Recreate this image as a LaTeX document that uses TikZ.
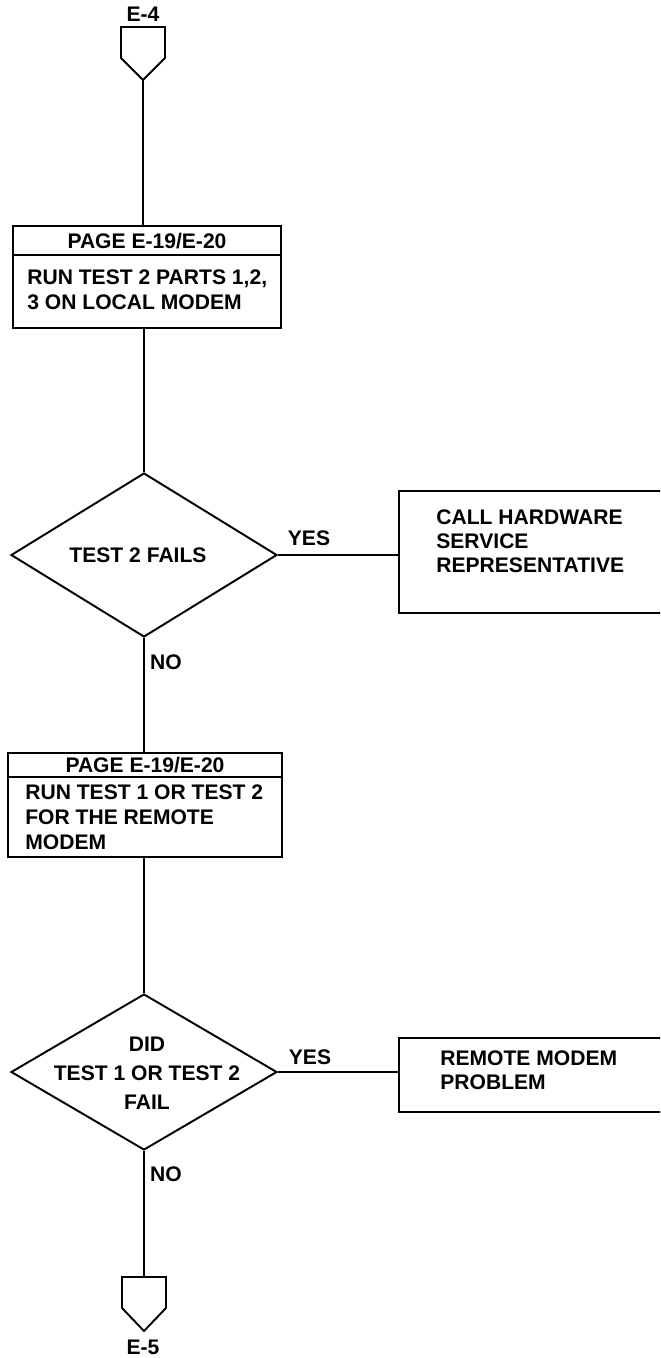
\documentclass[tikz,border=0pt]{standalone}
\usepackage{fontspec}
\setmainfont{Liberation Sans}
\usetikzlibrary{shapes.geometric}
\begin{document}
\begin{tikzpicture}[x=0.02cm,y=-0.02cm,
  every node/.style={font=\bfseries\fontsize{12}{14}\selectfont},
  ln/.style={line width=1.1pt},
  boxshape/.style={draw,line width=1.1pt,rectangle,inner sep=0pt},
  dia/.style={draw,line width=1.1pt,diamond,inner sep=0pt},
  txt/.style={inner sep=0pt,align=left},
  lbl/.style={inner sep=0pt}]
\useasboundingbox (0,0) rectangle (660,1358);
\clip (0,0) rectangle (660,1358);
% top off-page connector
\node[lbl] (e4) at (143,14) {E-4};
\draw[ln,line join=miter] (121,27) -- (165,27) -- (165,58) -- (143,80) -- (121,58) -- cycle;
\coordinate (c4) at (143,80);
% box 1
\node[boxshape,minimum width=268*0.02cm,minimum height=29*0.02cm] (h1) at (147,240.5) {};
\node[lbl] (h1t) at (147,241) {PAGE E-19/E-20};
\node[boxshape,minimum width=268*0.02cm,minimum height=73*0.02cm] (b1) at (147,291.5) {};
\node[txt,anchor=west,font=\bfseries\fontsize{12}{14.2}\selectfont] (t1) at (27,289.5) {RUN TEST 2 PARTS 1,2,\\3 ON LOCAL MODEM};
% decision 1
\node[dia,minimum width=266*0.02cm,minimum height=164*0.02cm] (d1) at (144,555) {};
\node[lbl] (d1t) at (138,555) {TEST 2 FAILS};
\node[lbl] (yes1) at (309,538) {YES};
\node[boxshape,minimum width=281*0.02cm,minimum height=122*0.02cm] (r1) at (539.5,552) {};
\node[txt,anchor=west,font=\bfseries\fontsize{12}{13.7}\selectfont] (r1t) at (436,541.5) {CALL HARDWARE\\SERVICE\\REPRESENTATIVE};
\node[lbl] (no1) at (166,662) {NO};
% box 2
\node[boxshape,minimum width=274*0.02cm,minimum height=24*0.02cm] (h2) at (145,765) {};
\node[lbl] (h2t) at (145,765.5) {PAGE E-19/E-20};
\node[boxshape,minimum width=274*0.02cm,minimum height=80*0.02cm] (b2) at (145,817) {};
\node[txt,anchor=west,font=\bfseries\fontsize{12}{14.2}\selectfont] (t2) at (25,817) {RUN TEST 1 OR TEST 2\\FOR THE REMOTE\\MODEM};
% decision 2
\node[dia,minimum width=266*0.02cm,minimum height=156*0.02cm] (d2) at (144,1072) {};
\node[txt,align=center,font=\bfseries\fontsize{12}{16.4}\selectfont] (d2t) at (147,1073) {DID\\TEST 1 OR TEST 2\\FAIL};
\node[lbl] (yes2) at (310,1057) {YES};
\node[boxshape,minimum width=281*0.02cm,minimum height=74*0.02cm] (r2) at (539.5,1075) {};
\node[txt,anchor=west,font=\bfseries\fontsize{12}{13.7}\selectfont] (r2t) at (440,1070) {REMOTE MODEM\\PROBLEM};
\node[lbl] (no2) at (166,1174) {NO};
% bottom off-page connector
\draw[ln,line join=miter] (122,1277) -- (166,1277) -- (166,1308) -- (144,1331) -- (122,1308) -- cycle;
\coordinate (c5) at (144,1277);
\node[lbl] (e5) at (143,1347) {E-5};
% connectors
\draw[ln] (c4) -- (c4 |- h1.north);
\draw[ln] (d1.north |- b1.south) -- (d1.north);
\draw[ln] (d1.east) -- (r1.west |- d1.east);
\draw[ln] (d1.south) -- (d1.south |- h2.north);
\draw[ln] (d2.north |- b2.south) -- (d2.north);
\draw[ln] (d2.east) -- (r2.west |- d2.east);
\draw[ln] (d2.south) -- (c5);
\end{tikzpicture}
\end{document}
